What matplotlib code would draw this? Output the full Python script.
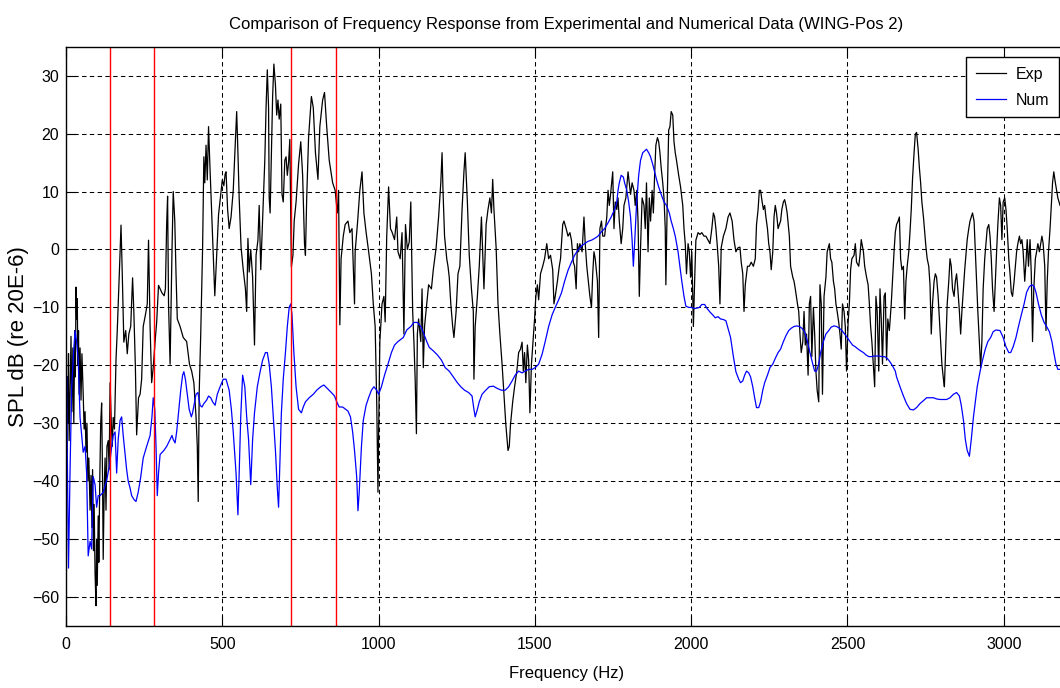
import matplotlib
matplotlib.use("Agg")
import matplotlib.pyplot as plt

plt.rcParams['font.family'] = ['Liberation Sans', 'DejaVu Sans']
plt.rcParams['lines.scale_dashes'] = False

# Experimental spectrum (Hz, dB)
exp_hz = [0, 2, 4, 6, 8, 10, 13, 16, 19, 22, 25, 28, 30, 32, 34, 36, 38, 40, 42, 45,
          48, 51, 55, 58, 61, 64, 67, 70, 73, 77, 80, 83, 85, 88, 90, 93, 96, 98, 100, 103,
          105, 108, 111, 114, 117, 119, 122, 125, 128, 131, 135, 138, 141, 145, 148, 151, 155, 160, 164, 167,
          172, 176, 180, 185, 191, 196, 201, 207, 213, 217, 222, 226, 232, 237, 242, 247, 254, 260, 264, 269,
          274, 279, 286, 290, 296, 301, 307, 314, 318, 322, 325, 328, 333, 339, 343, 348, 352, 356, 365, 375,
          386, 395, 402, 409, 416, 420, 423, 426, 431, 437, 441, 444, 448, 452, 456, 460, 466, 471, 476, 482,
          488, 494, 500, 505, 509,
          512, 517, 522, 528, 535, 542, 546, 550, 554, 560, 567, 574, 578, 582, 586, 591, 597, 603, 608, 614,
          618, 623, 627, 631, 636, 640, 644, 648, 650, 653, 657, 661, 665, 670, 674, 678, 682, 687, 691, 695,
          700, 704, 708, 712, 716, 721, 726, 730, 736, 744, 751, 757, 763, 766, 770, 776, 785, 791, 798, 806,
          812, 821, 827, 834, 842, 853, 861, 868, 872, 876, 880, 887, 893, 902, 908, 915, 923, 925, 933, 940,
          947, 953, 960, 968, 977, 983, 989, 994, 998, 1000, 1004, 1011, 1017, 1021, 1026, 1032, 1038,
          1043, 1051, 1058, 1062, 1069, 1075, 1081, 1086, 1092, 1098, 1103, 1109, 1113, 1117, 1121, 1124, 1128, 1135, 1139, 1143,
          1147, 1154, 1160, 1169, 1175, 1184, 1192, 1199, 1203, 1206, 1211, 1218, 1222, 1226, 1231, 1237, 1241, 1248, 1254, 1260,
          1267, 1273, 1277, 1284, 1290, 1297, 1303, 1305, 1309, 1316, 1322, 1329, 1333, 1337, 1344, 1350, 1356, 1361, 1365, 1369,
          1376, 1382, 1388, 1395, 1401, 1407, 1414, 1418, 1422, 1429, 1435, 1442, 1448, 1454, 1459, 1463, 1467, 1471, 1476, 1480,
          1484, 1489, 1495, 1499, 1503, 1508, 1512, 1518, 1525, 1531, 1538, 1544, 1550, 1557, 1561, 1565, 1572,
          1578, 1582, 1589, 1593, 1600, 1606, 1612, 1617, 1623, 1627, 1632, 1636, 1640, 1644, 1651, 1657, 1661, 1666, 1672, 1676,
          1681, 1685, 1689, 1693, 1700, 1704, 1708, 1713, 1717, 1723, 1730, 1734, 1738, 1742, 1749, 1753, 1757, 1762, 1766, 1770,
          1776, 1781, 1785, 1791, 1798, 1802, 1806, 1811, 1817, 1821, 1826, 1830, 1834, 1838, 1843, 1849, 1853, 1857, 1862, 1866,
          1870, 1875, 1879, 1883, 1887, 1892, 1896, 1900, 1904, 1909, 1913, 1917, 1919, 1924, 1928, 1932, 1936, 1941, 1945, 1949,
          1953, 1960, 1966, 1973, 1977, 1981, 1985, 1990, 1994, 1998, 2002, 2007, 2011, 2015, 2022, 2028, 2034, 2041, 2047, 2054,
          2060, 2066, 2071, 2075, 2079, 2083, 2088, 2092, 2096, 2103,
          2111, 2118, 2124, 2131, 2137, 2143, 2150, 2156, 2160, 2165, 2169, 2173, 2180, 2186, 2192, 2199, 2205, 2209, 2214, 2218,
          2222, 2227, 2231, 2235, 2239, 2244, 2248, 2252, 2256, 2261, 2265, 2269, 2273, 2278, 2282, 2286, 2290, 2295, 2299, 2303,
          2307, 2314, 2318, 2325, 2329, 2333, 2340, 2344, 2348, 2352, 2357, 2361, 2365, 2369, 2374, 2378, 2382, 2386, 2391, 2395,
          2399, 2403, 2408, 2412, 2416, 2420, 2425, 2431, 2435, 2442, 2446, 2450, 2455, 2459, 2463, 2467, 2472, 2476, 2480, 2484,
          2489, 2493, 2497, 2502, 2506, 2510, 2514, 2521, 2525, 2529, 2536, 2540, 2544, 2551, 2555, 2561, 2566, 2570, 2574, 2578,
          2583, 2587, 2591, 2595, 2600, 2604, 2608, 2612, 2617, 2621, 2625, 2629, 2634,
          2640, 2645, 2649, 2653, 2657, 2662, 2666, 2670, 2674, 2679, 2683, 2687, 2691, 2696, 2700, 2704, 2708, 2713, 2717, 2721,
          2726, 2730, 2734, 2738, 2743, 2747, 2751, 2755, 2760, 2764, 2768, 2772, 2777, 2781, 2785, 2790, 2794, 2798, 2802, 2807,
          2810, 2815, 2819, 2824, 2828, 2832, 2836, 2841, 2845, 2849, 2853, 2858, 2862, 2866, 2871, 2875, 2879, 2883, 2888, 2892,
          2896, 2900, 2905, 2909, 2913, 2917, 2922, 2926, 2930, 2934, 2939, 2943, 2947, 2952, 2956, 2960, 2964, 2969, 2973, 2977,
          2981, 2986, 2990, 2994, 2998, 3003, 3007, 3011, 3016, 3020, 3024, 3028, 3033, 3037, 3041, 3045, 3050, 3054, 3058, 3062,
          3067, 3071, 3075, 3079, 3084, 3088, 3092, 3096, 3101, 3105, 3109, 3114, 3118, 3122, 3126, 3131, 3135, 3139, 3143, 3148,
          3152, 3156, 3160, 3165, 3169, 3173, 3180]
exp_db = [-20, -35, -22, -30, -18, -33, -25, -15, -28, -17, -30, -14, -22, -6.5, -12, -8.5, -20, -14, -25, -17,
          -26, -18, -25, -31, -28, -35, -30, -40, -36, -45, -39, -48, -38, -52, -44, -56, -61.5, -50, -58, -46,
          -54, -40, -30, -26.5, -40, -53.5, -42, -36, -45, -34, -33, -38, -23, -30, -34, -29, -31, -19, -14, -9.3,
          -2, 4.2, -4.2, -16, -14, -18, -14.6, -13.3, -4.9, -10.7, -20.4, -32, -25.6, -25, -22.4, -13.3, -11.3, -9.4, 1.6, -13.3,
          -23, -20.4, -15.2, -12.6, -6.2, -6.8, -7.5, -8, -6.8, 4.3, 9.2, -9.4, -19.8, -0.4, 10, 4.9, -4.3, -12, -13.3, -15.2,
          -15.9, -19.8, -21, -23, -28.9, -34, -43.5, -25, -14.6, 0.3, 16, 11.5, 18, 12, 21.2, 15, 6.5, -0.4, -8, -1,
          6, 9, 12, 11, 13,
          13.4, 6.9, 3.6, 5.6, 10.2, 18.6, 23.8, 16.7, 8.9, 0.4, -3.5, -6.8, -10.7, 1.9, -3.9, 0, -4.8, -16.5, -1, 1.6,
          7.6, -3.5, 2.3, 8.2, 15.4, 24.5, 31, 24.5, 8.9, 6.3, 16.7, 26.4, 32, 28.4, 23.2, 25.8, 22.5, 25.1, 9.5, 8.2,
          15.4, 16, 12.8, 15, 19, -3, -1, 4.9, 8.2, 14.7, 18.6, 12.8, 1, -1, 8.9, 19.3, 26.4, 24.5, 16.7, 12.1,
          21.2, 25.8, 27.1, 21.2, 15.4, 11.5, 10.2, 6.3, 10.2, -13, -1.6, 2.3, 4.3, 4.9, 2.9, 3.6, -9.4, -0.4, 4.9, 10.2,
          13.4, 6.3, 3, -0.3, -4.2, -9.4, -13.3, -26.3, -41.9, -32.1, -15.9, -9.4, -8.1, -12.5, 2.3, 10.8, 3.6,
          3, 1.7, 5.6, -0.4, -1.6, 2.9, -14.6, 4.3, 0, 1.3, 8.2, -10.7, -15.9, -22.4, -31.8, -14.6, -12, -15.9, -6.8, -20.4,
          -13.3, -9.4, -6.1, -6.8, -3.5, 0.3, 5.6, 11.5, 16.7, 10.2, 2.3, -1.6, -2.9, -4.8, -9.4, -13.3, -15.2, -10.7, -4.2, -2.9,
          6.9, 13.4, 16.7, 8.2, -1, -6.8, -10.7, -22.4, -13.3, -8.1, -2.9, 5.6, -0.4, -6.8, 4.3, 6.9, 8.9, 6.3, 12.1, 6.9,
          0.3, -9.4, -14.6, -19.8, -25, -30.2, -34.7, -34, -30.2, -26.3, -23.7, -21.1, -17.8, -17.2, -16, -21, -17.8, -23, -16.5, -19.1,
          -28.2, -19.8, -15.2, -12, -8.1, -6.1, -8.7, -4.2, -2.9, -1.6, 1, -1.6, -1, -3.5, -9.4, -8.1, -5.5,
          -2.9, -1.6, 4.3, 4.9, 3.6, 2.3, 2.9, 1.6, -2.2, -2.9, -6.8, 1, -0.4, 1, -0.4, 5.6, 1, -2.9, -6.1, -8.1,
          -10, -4.2, -0.4, -1.6, -5.5, -15.2, 3.6, 4.9, 2.3, 2.3, 5.6, 10.2, 7.6, 9.5, 13.4, 3.6, 8.2, 6.9, 8.9, 4.9,
          1, 3.6, 7.6, 8.9, 13.4, 11.5, 9.5, 11.5, 10.2, 7.6, 10.2, 4.9, -8.1, 0.3, 8.9, 7.6, 3.6, 11.5, -0.4, 8.9,
          4.9, 10.2, 6.3, 12.8, 18, 19.3, 18.6, 16.7, 14.1, 11.5, 8.9, 3.6, -6.1, 10.2, 20.6, 21.2, 23.8, 23.2, 18.6, 16.7,
          15.4, 12.8, 10.8, 7.6, 3.6, 1, -4.2, 1, -0.4, -4.8, -0.4, -13.3, -5.5, 1.6, 2.9, 2.6, 2.9, 2.3, 2.3, 1.6,
          1, 3.6, 6.3, 5.6, 3.6, 1, -2.9, -9.4, 0.3, 2.3,
          3.6, 5.6, 6.3, 4.9, 1.6, -0.4, 0.3, 0.4, -2.2, -4.2, -10.7, -6.1, -2.9, -2.9, -2.2, -2.9, -1.6, 4.3, 6.9, 10.2,
          10.2, 8.2, 6.9, 7.6, 5.6, 3.6, 1, -0.4, -3.5, -0.4, 5.6, 7.6, 6.3, 3.6, 4.3, 4.9, 6.9, 8.2, 8.6, 7.6,
          6.3, 2.3, -2.9, -4.8, -5.5, -6.8, -9.4, -10.7, -14.6, -17.8, -16, -10.7, -16.5, -14.6, -21.7, -9.4, -8.1, -18.5, -10, -14.6,
          -21, -24.3, -26.3, -6.1, -9.4, -25, -8.1, -4.8, -0.4, 1, -1.6, -2.2, -5.5, -6.8, -9.4, -10.7, -12.6, -14.6, -17.2, -9.4,
          -10.7, -13.3, -21, -12.6, -9.4, -3.5, -1.6, -1, 1, -2.2, -2.9, -1, 1.7, -0.4, -2.9, -4.8, -6.1, -9.4, -13.3, -15.9,
          -20.4, -23.7, -8.1, -10.7, -21, -6.8, -12, -19.8, -8.1, -7.5, -19.1, -12, -14,
          -9.4, -4.2, -0.3, 3, 4.3, 4.9, 5.6, -1.6, -3.5, -2.9, -12, -5.5, -2.9, -0.4, 3, 6.9, 12.1, 16.7, 19.9, 20.2,
          17.3, 14.1, 11.5, 8.2, 5.6, 3, 0.4, -1.6, -2.9, -6.1, -14.6, -9.4, -5.5, -4.2, -4.8, -8.1, -12, -15.9, -19.8, -22.4,
          -23.7, -15.9, -9.4, -5.5, -1.6, -2.9, -6.8, -8.1, -5.5, -4.2, -6.8, -10.7, -14.6, -10.7, -6.8, -3.5, -1, 1.7, 3.6, 4.9,
          5.6, 6.3, 4.9, -0.4, -5.5, -10.7, -15.9, -20.4, -15.9, -6.8, -1.6, 1, 3.6, 4.3, 2.3, -1.6, -6.8, -10.7, -5.5, -0.4,
          4.3, 8.9, 7.6, 1.7, 8.2, 8.9, 6.9, 3.6, -1.6, -4.2, -7.4, -8.1, -5.5, -2.9, -0.4, 1, 2.3, 1, 1.7, -0.4,
          -5.5, -2.2, 1.7, -2.9, 1.7, -4.2, -15.9, -6.8, -1.6, -0.4, 1, -0.4, 1, 2.3, 1, -2.9, -14, -5.5, -0.4, 3.6,
          7.6, 11.5, 13.4, 11.5, 10.2, 8.9, 7.6]

# Numerical prediction (Hz, dB)
num_hz = [0, 2, 5, 8, 11, 13, 18, 24, 29, 34, 39, 45, 50, 55, 61, 66, 71, 77, 82, 87,
          93, 98, 103, 109, 119, 130, 139, 146, 151, 157, 162, 167, 173, 178, 183, 189, 194, 199, 205, 210,
          218, 224, 231, 239, 247, 258, 269, 275, 279, 284, 288, 292, 296, 301, 306, 313, 322, 333, 339, 343,
          349, 354, 360, 367, 373, 377, 382, 388, 394, 401, 405, 409, 416, 422, 429, 435, 441, 450, 456, 463,
          469, 477, 484, 493, 503,
          512, 522, 529, 535, 544, 550, 554, 559, 565, 572, 578, 584, 591, 597, 603, 612, 621, 629, 638, 644,
          650, 657, 663, 670, 676, 680, 685, 689, 695, 702, 708, 714, 719, 723, 729, 736, 744, 753, 759, 766,
          778, 791, 802, 815, 825, 836, 849, 859, 866, 874, 885, 902, 910, 917, 923, 930, 934, 938, 945, 951,
          960, 968, 977, 985, 994, 1000, 1009, 1019, 1030, 1041, 1051, 1062,
          1079, 1090, 1103, 1113, 1124, 1135, 1145, 1154, 1162, 1175, 1188, 1201, 1213, 1226, 1239, 1252, 1263, 1275, 1288, 1299,
          1305, 1309, 1316, 1322, 1331, 1341, 1354, 1367, 1380, 1393, 1405, 1416, 1427, 1437, 1448, 1459, 1469, 1480, 1491, 1501,
          1512, 1523, 1533, 1544, 1555, 1565, 1576,
          1585, 1595, 1606, 1617, 1627, 1638, 1649, 1659, 1670, 1681, 1691, 1702, 1712, 1723, 1734, 1744, 1755, 1762, 1766, 1770,
          1776, 1783, 1787, 1794, 1800, 1806, 1811, 1815, 1819, 1825, 1832, 1838, 1845, 1851, 1857, 1864, 1870, 1877, 1883, 1889,
          1896, 1904, 1913, 1921, 1930, 1936, 1943, 1949, 1958, 1964, 1970, 1977, 1983, 1992, 2000, 2011, 2020, 2026, 2034, 2043,
          2051, 2060, 2069, 2077, 2086, 2094, 2103, 2111,
          2126, 2135, 2143, 2152, 2158, 2165, 2171, 2177, 2184, 2190, 2197, 2203, 2209, 2216, 2222, 2229, 2235, 2244, 2252, 2261,
          2269, 2278, 2286, 2295, 2303, 2312, 2320, 2329, 2337, 2346, 2354, 2363, 2372, 2380, 2389, 2395, 2401, 2408, 2414, 2423,
          2431, 2440, 2448, 2457, 2465, 2474, 2482, 2491, 2499, 2508, 2516, 2525, 2534, 2542, 2551, 2559, 2568, 2576, 2585, 2593,
          2602, 2610, 2619, 2627, 2636, 2644, 2653,
          2657, 2668, 2679, 2689, 2700, 2711, 2721, 2732, 2743, 2753, 2764, 2775, 2785, 2796, 2807, 2817, 2828, 2839, 2849, 2858,
          2864, 2871, 2877, 2883, 2890, 2896, 2903, 2909, 2915, 2924, 2932, 2941, 2949, 2958, 2966, 2975, 2988, 2998, 3007, 3016,
          3022, 3030, 3039, 3047, 3056, 3065, 3073, 3082, 3090, 3097, 3103, 3111, 3120, 3129, 3137, 3146, 3154, 3160, 3167, 3173,
          3180]
num_db = [-30, -22, -40, -55, -45, -38, -24, -18, -14, -16, -19, -29, -32, -35, -34, -38.6, -52.9, -50.4, -51.7, -39.2,
          -40.6, -44.5, -42.5, -42.5, -41.9, -39.9, -37.3, -34.1, -32.1, -31.5, -38.6, -32.8, -29.5, -28.9, -32.1, -35.4, -38, -40, -41.2, -42.5,
          -43.2, -43.5, -41.9, -39.3, -36, -34, -32.1, -28.9, -25.6, -27.6, -34, -42.5, -38.6, -35.4, -35.1, -34.7, -34, -32.8, -32.1, -32.8,
          -33.4, -31.5, -28.2, -24.3, -21.7, -21.1, -22.4, -25, -27.6, -28.9, -28.2, -27, -25, -24.7, -26.9, -27.2, -26.6, -26, -25.3, -25.6,
          -26.3, -26.9, -25, -23.7, -22.4,
          -22.4, -24.3, -27.6, -31.5, -38.6, -45.8, -38.6, -28.9, -21.7, -23.7, -28.9, -32.8, -40.6, -32.8, -28.2, -23.7, -21.1, -19.1, -17.8, -17.8,
          -19.8, -23.7, -28.9, -34.7, -41.2, -44.5, -35.4, -28.2, -22.4, -17.8, -13.3, -10, -9.4, -11.3, -17.8, -23.7, -27.6, -28.2, -27.2, -26.3,
          -25.6, -25, -24.3, -23.7, -23.4, -24, -24.7, -25.3, -26.3, -27.2, -27.2, -27.9, -28.9, -31.5, -34.7, -39.3, -45.1, -41.9, -34.1, -29.5,
          -26.9, -25.6, -24.3, -23.7, -24.3, -25, -23.7, -21.7, -19.8, -17.8, -16.5, -15.9,
          -15.2, -13.9, -13.3, -12.6, -12.6, -13.3, -14.6, -15.9, -16.9, -17.5, -18.2, -19.1, -20.4, -21, -22, -23, -23.7, -24.3, -24.7, -25.3,
          -27.6, -28.9, -27.6, -26.3, -25, -24.4, -23.7, -23.6, -24, -24.3, -24.3, -23.7, -22.7, -21.7, -21, -21.3, -21, -20.7, -20.7, -20.4,
          -19.8, -18.1, -15.9, -13.3, -11.3, -10, -8.7,
          -7.5, -5.5, -3.6, -2.2, -1, -0.1, 0.6, 1, 1.4, 1.6, 1.9, 2.3, 3, 3.6, 4.6, 5.6, 6.9, 8.2, 10.2, 11.5,
          12.8, 12.5, 11.5, 10.2, 8.2, 5.6, 1.6, -2.9, 1, 7.6, 12.8, 15.4, 16.7, 17, 17.3, 16.7, 16, 14.7, 13.4, 12.1,
          10.8, 9.5, 8.2, 7.6, 6.3, 4.9, 3.6, 2.3, -0.4, -2.9, -5.5, -8.1, -9.8, -10, -10, -10.2, -10.1, -10, -9.5, -9.5,
          -10.2, -10.8, -11.3, -11.8, -11.6, -12, -12.1, -12.3,
          -15.2, -18.5, -21.1, -22.4, -23, -22.7, -21.7, -21, -21.3, -22, -23.7, -25.6, -27.3, -27.3, -26.3, -24.3, -23, -21.7, -20.4, -19.8,
          -18.8, -17.8, -17.2, -15.9, -14.9, -14, -13.6, -13.3, -13.2, -13.3, -13.6, -14.2, -15.9, -17.8, -19.8, -21, -21, -19.8, -17.8, -15.9,
          -14.6, -14, -13.4, -13.2, -13.3, -13.6, -14, -14.6, -15.2, -15.9, -16.5, -16.8, -17.2, -17.5, -17.8, -18.2, -18.5, -18.5, -18.4, -18.4,
          -18.4, -18.5, -18.5, -18.8, -19.4, -20.1, -21,
          -22, -23.7, -25.3, -26.6, -27.6, -27.7, -27.3, -26.6, -26.1, -25.6, -25.6, -25.6, -25.8, -25.9, -25.9, -25.9, -25.6, -25, -24.7, -25.3,
          -26.9, -29.5, -32.8, -34.7, -35.7, -32.8, -28.9, -26.3, -23.7, -21.1, -19.1, -17.2, -15.9, -15.2, -14.2, -13.9, -14, -15.2, -16.8, -17.8,
          -17.8, -16.8, -15.2, -13.3, -11.3, -9.4, -7.4, -6.4, -6.1, -6.4, -7.4, -9.4, -11.3, -12.6, -13.3, -14.2, -15.9, -17.8, -19.8, -20.7,
          -20.7]

# marked frequencies (red lines)
mark_hz = [140, 282, 719, 863]

x_ticks = [0, 500, 1000, 1500, 2000, 2500, 3000]
y_ticks = [-60, -50, -40, -30, -20, -10, 0, 10, 20, 30]

fig = plt.figure(figsize=(10.6, 6.88), dpi=100)
ax = fig.add_axes([66 / 1060, 62 / 688, 1000.3 / 1060, 579.3 / 688])

ax.plot(exp_hz, exp_db, color='black', lw=0.9, label='Exp')
ax.plot(num_hz, num_db, color='blue', lw=0.9, label='Num')
for f in mark_hz:
    ax.axvline(f, color='red', lw=1.0)

ax.set_xlim(0, 3200)
ax.set_ylim(-65, 35)
ax.set_xticks(x_ticks)
ax.set_yticks(y_ticks)
ax.grid(True, color='black', lw=0.75, linestyle=(0, (3.2, 2.4)))
ax.tick_params(direction='in', length=7, width=0.8, top=True, right=True, labelsize=11.5)
ax.tick_params(axis='x', pad=8)
ax.tick_params(axis='y', pad=5)
for s in ax.spines.values():
    s.set_linewidth(1.0)

ax.set_title('Comparison of Frequency Response from Experimental and Numerical Data (WING-Pos 2)',
             fontsize=12, pad=13)
ax.set_xlabel('Frequency (Hz)', fontsize=12, labelpad=10)
ax.set_ylabel('SPL dB (re 20E-6)', fontsize=16, labelpad=2)

leg = ax.legend(loc='upper right', bbox_to_anchor=(1059 / 1060, 631 / 688), bbox_transform=fig.transFigure,
                borderaxespad=0, fontsize=11.5, handlelength=1.9, handletextpad=0.6, labelspacing=0.7,
                borderpad=0.6, fancybox=False, framealpha=1, edgecolor='black')
leg.get_frame().set_linewidth(1.0)

fig.savefig('out.png', dpi=100)
